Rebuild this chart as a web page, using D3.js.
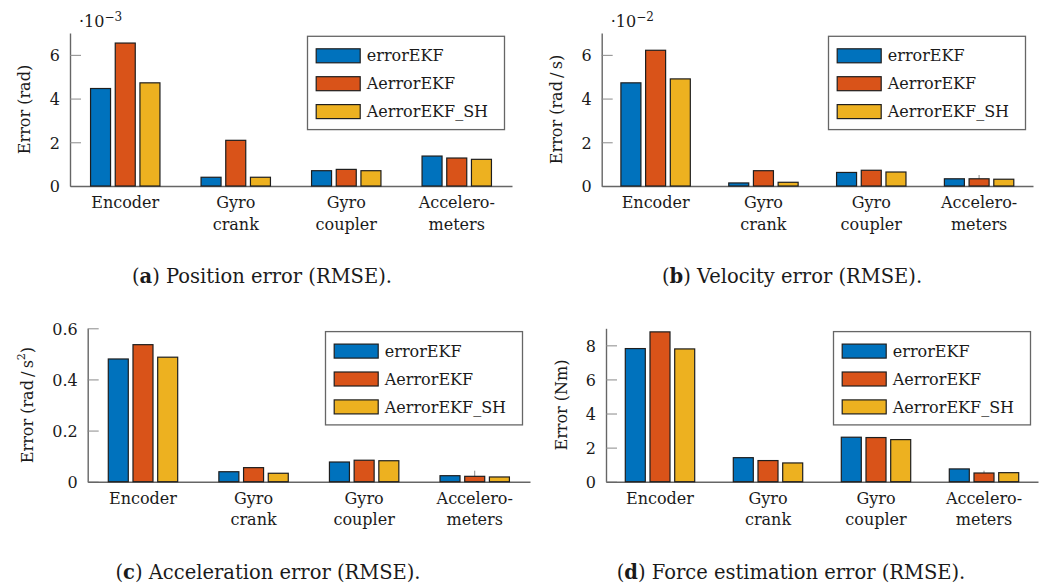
<!DOCTYPE html>
<html>
<head>
<meta charset="utf-8">
<script src="https://cdn.jsdelivr.net/npm/d3@7"></script>
<style>
  body { margin: 0; background: #fff; }
  svg { display: block; }
  text { font-family: "DejaVu Serif", serif; fill: #1a1a1a; }
</style>
</head>
<body>
<svg id="fig" width="1054" height="588"></svg>
<script>
// ---- data ----------------------------------------------------------------
const categories = ["Encoder", "Gyro crank", "Gyro coupler", "Accelerometers"];
const categoryLines = [["Encoder"], ["Gyro", "crank"], ["Gyro", "coupler"], ["Accelero-", "meters"]];
const seriesNames = ["errorEKF", "AerrorEKF", "AerrorEKF_SH"];

// (a) position error, x 10^-3 rad
const posErrorEKF     = [4.46, 0.40, 0.70, 1.37];
const posAerrorEKF    = [6.54, 2.09, 0.76, 1.28];
const posAerrorEKF_SH = [4.72, 0.40, 0.70, 1.22];
const posTicks = [0, 2, 4, 6];

// (b) velocity error, x 10^-2 rad/s
const velErrorEKF     = [4.72, 0.14, 0.62, 0.33];
const velAerrorEKF    = [6.21, 0.70, 0.72, 0.33];
const velAerrorEKF_SH = [4.90, 0.17, 0.64, 0.31];
const velTicks = [0, 2, 4, 6];

// (c) acceleration error, rad/s^2
const accErrorEKF     = [0.480, 0.039, 0.077, 0.0235];
const accAerrorEKF    = [0.536, 0.055, 0.084, 0.021];
const accAerrorEKF_SH = [0.487, 0.033, 0.082, 0.0185];
const accTicks = [0, 0.2, 0.4, 0.6];

// (d) force estimation error, Nm
const forceErrorEKF     = [7.81, 1.41, 2.61, 0.75];
const forceAerrorEKF    = [8.79, 1.24, 2.59, 0.51];
const forceAerrorEKF_SH = [7.79, 1.10, 2.47, 0.53];
const forceTicks = [0, 2, 4, 6, 8];

// ---- styling & layout ----------------------------------------------------
const seriesColors = ["#0072BD", "#D95319", "#EDB120"];
const axisColor = "#666";
const fontSize = 16;
const barWidth = 20;
const barStep = 24.7;

const svg = d3.select("#fig");

function drawPanel(p) {
  const g = svg.append("g");
  const x = d3.scaleBand().domain(categories).range([p.x0, p.x1]).padding(0);
  const y = d3.scaleLinear().domain([0, p.yMax]).range([p.bottom, p.top]);

  // y axis with inward ticks
  const yAxis = g.append("g")
    .attr("transform", `translate(${p.x0},0)`)
    .call(d3.axisLeft(y).tickValues(p.ticks).tickFormat(d => String(d))
      .tickSize(-11).tickSizeOuter(0).tickPadding(10));
  yAxis.select(".domain").attr("stroke", axisColor).attr("stroke-width", 1.4);
  yAxis.selectAll(".tick line").attr("stroke", "#8a8a8a").attr("stroke-width", 1);
  yAxis.selectAll(".tick text").attr("font-size", fontSize)
    .attr("font-family", "DejaVu Serif").attr("fill", "#1a1a1a").attr("dy", "0.36em");

  // x axis: inward ticks at category centres (behind the bars)
  const xAxis = g.append("g")
    .attr("transform", `translate(0,${p.bottom})`)
    .call(d3.axisBottom(x).tickSize(-11).tickSizeOuter(0).tickFormat(""));
  xAxis.select(".domain").attr("stroke", axisColor).attr("stroke-width", 1.4);
  xAxis.selectAll(".tick line").attr("stroke", "#8a8a8a").attr("stroke-width", 1);
  xAxis.selectAll(".tick text").remove();

  // category labels, two lines where needed
  const lbl = g.append("g").selectAll("text").data(categories).join("text")
    .attr("x", d => x(d) + x.bandwidth() / 2)
    .attr("y", p.bottom + 22)
    .attr("text-anchor", "middle")
    .attr("font-size", fontSize);
  lbl.each(function (d, i) {
    d3.select(this).selectAll("tspan").data(categoryLines[i]).join("tspan")
      .attr("x", x(d) + x.bandwidth() / 2)
      .attr("dy", (t, j) => j === 0 ? 0 : 21.5)
      .text(t => t);
  });

  // bars
  p.series.forEach((vals, si) => {
    g.append("g").selectAll("rect").data(vals).join("rect")
      .attr("x", (v, ci) => x(categories[ci]) + x.bandwidth() / 2 + (si - 1) * barStep - barWidth / 2)
      .attr("y", v => y(v))
      .attr("width", barWidth)
      .attr("height", v => y(0) - y(v))
      .attr("fill", seriesColors[si])
      .attr("stroke", "#1e1e1e")
      .attr("stroke-width", 1.2);
  });

  // y label (rotated)
  const yl = g.append("text")
    .attr("transform", `translate(${p.x0 - p.labelGap},${(p.top + p.bottom) / 2}) rotate(-90)`)
    .attr("text-anchor", "middle")
    .attr("font-size", fontSize);
  yl.append("tspan").text(p.yLabel);
  if (p.yLabelSup) {
    yl.append("tspan").attr("font-size", 11).attr("dy", "-0.75em").text(p.yLabelSup);
    yl.append("tspan").attr("dy", "0.5em").text(p.yLabelTail);
  }

  // scale multiplier above the axis
  if (p.multiplier) {
    const m = g.append("text").attr("x", p.x0 + 9).attr("y", p.top - 6.3).attr("font-size", fontSize);
    m.append("tspan").text("\u00B710");
    m.append("tspan").attr("font-size", 12).attr("dy", -6).text(p.multiplier);
  }

  // legend
  const lw = 197, lh = 93.3;
  const lx = p.x1 - 7.5 - lw, ly = p.top + 3.3;
  const leg = g.append("g").attr("transform", `translate(${lx},${ly})`);
  leg.append("rect").attr("width", lw).attr("height", lh)
    .attr("fill", "#fff").attr("stroke", axisColor).attr("stroke-width", 1.3);
  const rows = leg.selectAll("g.row").data(seriesNames).join("g")
    .attr("class", "row")
    .attr("transform", (d, i) => `translate(0,${19.5 + i * 27.9})`);
  rows.append("rect").attr("x", 8.7).attr("y", -7).attr("width", 44).attr("height", 14)
    .attr("fill", (d, i) => seriesColors[i]).attr("stroke", "#1e1e1e").attr("stroke-width", 1.2);
  rows.append("text").attr("x", 59.3).attr("y", 5.6).attr("font-size", fontSize).text(d => d);

  // caption
  const cap = g.append("text").attr("x", p.capX).attr("y", p.bottom + 97.3)
    .attr("text-anchor", "middle").attr("font-size", 19.5);
  cap.append("tspan").text("(");
  cap.append("tspan").attr("font-weight", "bold").text(p.capLetter);
  cap.append("tspan").text(") " + p.caption);
}

drawPanel({
  x0: 70, x1: 512, top: 33, bottom: 186, yMax: 7, ticks: posTicks,
  series: [posErrorEKF, posAerrorEKF, posAerrorEKF_SH],
  yLabel: "Error (rad)", labelGap: 40, multiplier: "\u22123",
  capX: 262, capLetter: "a", caption: "Position error (RMSE)."
});
drawPanel({
  x0: 601.7, x1: 1033, top: 33, bottom: 186, yMax: 7, ticks: velTicks,
  series: [velErrorEKF, velAerrorEKF, velAerrorEKF_SH],
  yLabel: "Error (rad\u2009/\u2009s)", labelGap: 39.4, multiplier: "\u22122",
  capX: 792, capLetter: "b", caption: "Velocity error (RMSE)."
});
drawPanel({
  x0: 87.7, x1: 530, top: 328.3, bottom: 481.7, yMax: 0.6, ticks: accTicks,
  series: [accErrorEKF, accAerrorEKF, accAerrorEKF_SH],
  yLabel: "Error (rad\u2009/\u2009s", yLabelSup: "2", yLabelTail: ")", labelGap: 54.4,
  capX: 268, capLetter: "c", caption: "Acceleration error (RMSE)."
});
drawPanel({
  x0: 606, x1: 1038, top: 328.3, bottom: 481.7, yMax: 9, ticks: forceTicks,
  series: [forceErrorEKF, forceAerrorEKF, forceAerrorEKF_SH],
  yLabel: "Error (Nm)", labelGap: 39, 
  capX: 791, capLetter: "d", caption: "Force estimation error (RMSE)."
});
</script>
</body>
</html>
